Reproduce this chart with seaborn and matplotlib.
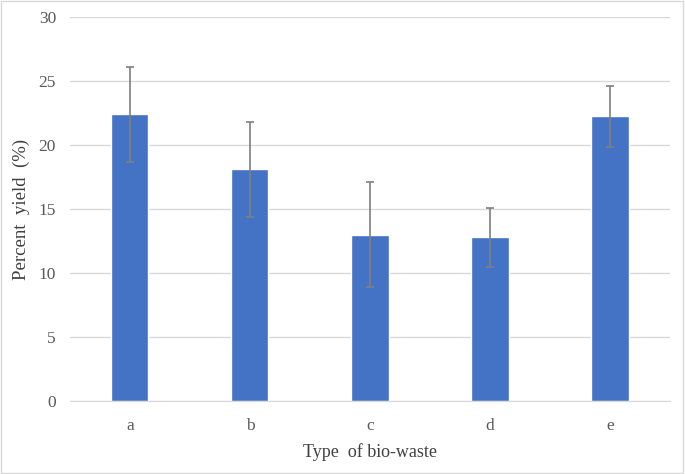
import pandas as pd
import matplotlib.pyplot as plt
import seaborn as sns

# Data
categories = ['a', 'b', 'c', 'd', 'e']
yield_pct = [22.4, 18.1, 13.0, 12.8, 22.25]
yield_err = [3.7, 3.7, 4.1, 2.3, 2.4]

df = pd.DataFrame({'waste': categories, 'yield': yield_pct, 'err': yield_err})

sns.set_style('white')
plt.rcParams['font.family'] = ['Liberation Serif', 'DejaVu Serif']

fig = plt.figure(figsize=(6.85, 4.74), dpi=100)
ax = fig.add_axes([0.102, 0.154, 0.876, 0.81])

sns.barplot(x='waste', y='yield', data=df, color='#4472C4', saturation=1,
            width=0.31, errorbar=None, ax=ax, zorder=2)

# error bars at the bar positions seaborn used
ax.errorbar(ax.get_xticks(), df['yield'], yerr=df['err'], fmt='none',
            ecolor='#7f7f7f', elinewidth=1.2, capsize=3, capthick=1.2, zorder=3)

ax.set_xlim(-0.5, len(categories) - 0.5)
ax.set_ylim(0, 30)
ax.set_yticks(range(0, 31, 5))
ax.yaxis.grid(True, color='#d9d9d9', linewidth=1, zorder=0)
ax.set_axisbelow(True)
for s in ['top', 'right', 'left']:
    ax.spines[s].set_visible(False)
ax.spines['bottom'].set_color('#d9d9d9')
ax.tick_params(axis='both', length=0, labelsize=12.5, labelcolor='#595959')
ax.tick_params(axis='x', pad=12)
ax.tick_params(axis='y', pad=10)

ax.set_xlabel('Type  of bio-waste', fontsize=13, color='#404040', labelpad=7)
ax.set_ylabel('Percent  yield  (%)', fontsize=13.5, color='#404040', labelpad=6)

# light frame around the whole figure
fig.patches.append(plt.Rectangle((0.002, 0.003), 0.995, 0.994, transform=fig.transFigure,
                                 fill=False, edgecolor='#d9d9d9', linewidth=1))

fig.savefig('out.png', dpi=100)
